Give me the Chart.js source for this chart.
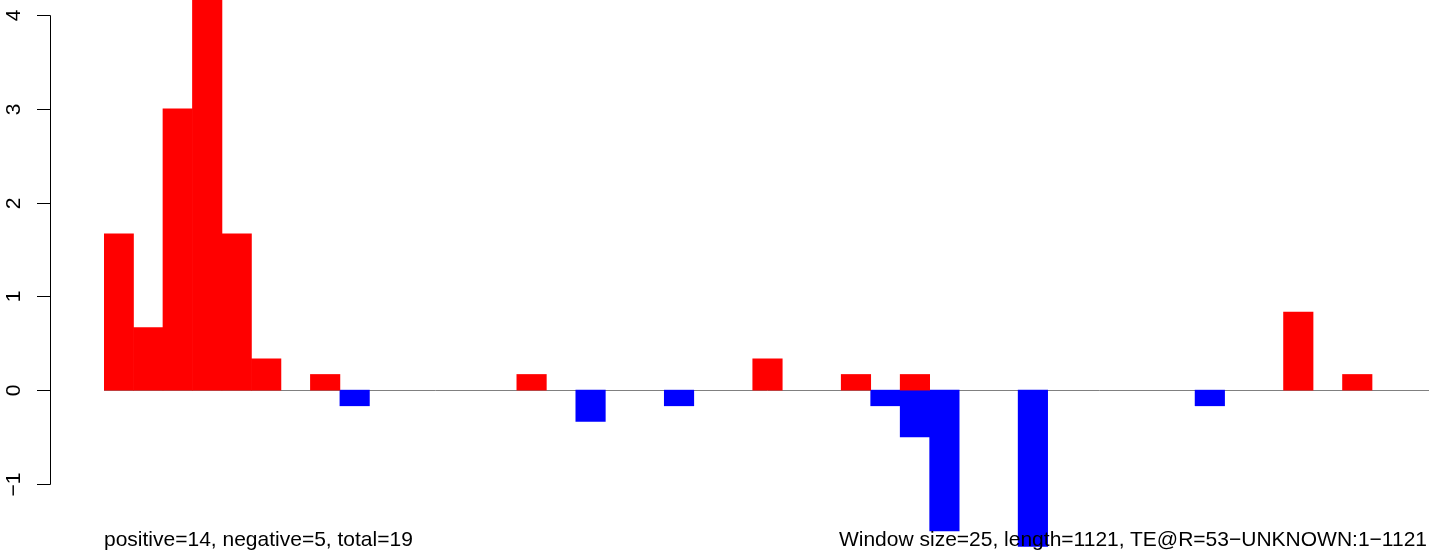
<!DOCTYPE html>
<html>
<head>
<meta charset="utf-8">
<script src="https://cdn.jsdelivr.net/npm/chart.js@4"></script>
<style>
  html, body { margin: 0; padding: 0; background: #fff; }
  #wrap { position: relative; width: 1429px; height: 552px; overflow: hidden; }
  canvas { position: absolute; left: 0; top: 0; }
  .note { position: absolute; font-family: "Liberation Sans", Arial, sans-serif; font-size: 21px; line-height: 1; color: #000; white-space: nowrap; }
</style>
</head>
<body>
<div id="wrap">
  <canvas id="c" width="1431" height="552"></canvas>
  <div class="note" id="leftNote"></div>
  <div class="note" id="rightNote"></div>
</div>
<script>
// Window index (categories)
const categories = Array.from({length: 45}, (_, i) => String(i + 1));
// Positive (red) window values (null = no bar)
const positiveValues = [1.667, 0.667, 3.0, 4.5, 1.667, 0.333, null, 0.167, null, null,
  null, null, null, null, 0.167, null, null, null, null, null,
  null, null, 0.333, null, null, 0.167, null, 0.167, null, null,
  null, null, null, null, null, null, null, null, null, null,
  0.833, null, 0.167, null, null];
// Negative (blue) window values (null = no bar)
const negativeValues = [null, null, null, null, null, null, null, null, -0.167, null,
  null, null, null, null, null, null, -0.333, null, null, -0.167,
  null, null, null, null, null, null, -0.167, -0.5, -1.5, null,
  null, -1.667, null, null, null, null, null, -0.167, null, null,
  null, null, null, null, null];
const yTickLabels = ['\u22121', '0', '1', '2', '3', '4'];
const yTickValues = [-1, 0, 1, 2, 3, 4];
const leftText = 'positive=14, negative=5, total=19';
const rightText = 'Window size=25, length=1121, TE@R=53\u2212UNKNOWN:1\u22121121';

document.getElementById('leftNote').textContent = leftText;
document.getElementById('rightNote').textContent = rightText;

const FONT = '21px "Liberation Sans", Arial, sans-serif';

const baselinePlugin = {
  id: 'baseline',
  beforeDatasetsDraw(chart) {
    const ctx = chart.ctx, y = chart.scales.y, a = chart.chartArea;
    const py = Math.round(y.getPixelForValue(0)) + 0.5;
    ctx.save();
    ctx.strokeStyle = '#808080';
    ctx.lineWidth = 1;
    ctx.beginPath();
    ctx.moveTo(a.left, py);
    ctx.lineTo(a.right, py);
    ctx.stroke();
    ctx.restore();
  }
};

const yAxisPlugin = {
  id: 'rAxis',
  afterDraw(chart) {
    const ctx = chart.ctx, y = chart.scales.y;
    const axisX = 50.5;
    const top = y.getPixelForValue(yTickValues[yTickValues.length - 1]);
    const bottom = y.getPixelForValue(yTickValues[0]);
    ctx.save();
    ctx.strokeStyle = '#000';
    ctx.lineWidth = 1;
    ctx.beginPath();
    ctx.moveTo(axisX, Math.round(top) + 0.5);
    ctx.lineTo(axisX, Math.round(bottom) + 0.5);
    ctx.stroke();
    ctx.font = FONT;
    ctx.fillStyle = '#000';
    ctx.textAlign = 'center';
    ctx.textBaseline = 'alphabetic';
    yTickValues.forEach((v, i) => {
      const py = Math.round(y.getPixelForValue(v)) + 0.5;
      ctx.beginPath();
      ctx.moveTo(37, py);
      ctx.lineTo(axisX, py);
      ctx.stroke();
      ctx.save();
      ctx.translate(20, py);
      ctx.rotate(-Math.PI / 2);
      ctx.fillText(yTickLabels[i], 0, 0);
      ctx.restore();
    });
    ctx.restore();
  }
};

new Chart(document.getElementById('c'), {
  type: 'bar',
  data: {
    labels: categories,
    datasets: [
      { data: positiveValues, backgroundColor: '#FF0000', borderWidth: 0, grouped: false,
        barPercentage: 1, categoryPercentage: 1 },
      { data: negativeValues, backgroundColor: '#0000FF', borderWidth: 0, grouped: false,
        barPercentage: 1, categoryPercentage: 1 }
    ]
  },
  options: {
    responsive: false,
    animation: false,
    maintainAspectRatio: false,
    layout: { padding: { left: 104, right: 0, top: 0, bottom: 0 } },
    plugins: { legend: { display: false }, tooltip: { enabled: false } },
    scales: {
      x: { display: false, offset: true },
      y: { display: false, min: -1.726, max: 4.16 }
    }
  },
  plugins: [baselinePlugin, yAxisPlugin]
});

const ln = document.getElementById('leftNote');
const rn = document.getElementById('rightNote');
ln.style.left = '104px';
rn.style.right = '2px';
ln.style.top = '528px';
rn.style.top = '528px';
</script>
</body>
</html>
